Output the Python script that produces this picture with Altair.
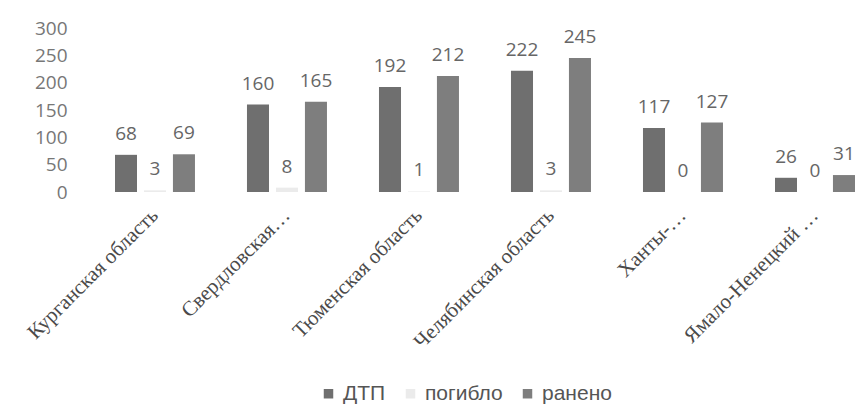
import altair as alt
import pandas as pd

regions = ["Курганская область", "Свердловская…", "Тюменская область",
           "Челябинская область", "Ханты-…", "Ямало-Ненецкий …"]
series_names = ["ДТП", "погибло", "ранено"]
dtp = [68, 160, 192, 222, 117, 26]
killed = [3, 8, 1, 3, 0, 0]
injured = [69, 165, 212, 245, 127, 31]
y_ticks = [0, 50, 100, 150, 200, 250, 300]

rows = []
for i, r in enumerate(regions):
    for s, vals in zip(series_names, [dtp, killed, injured]):
        rows.append({"region": r, "series": s, "value": vals[i]})
df = pd.DataFrame(rows)

x_enc = alt.X("region:N", sort=regions,
              scale=alt.Scale(paddingInner=0.394, paddingOuter=0.178, align=0.957),
              axis=alt.Axis(title=None, labelAngle=315, labelAlign="right",
                            labelBaseline="middle", labelPadding=20,
                            labelFont="Liberation Serif", labelFontSize=21,
                            labelColor="#4a4a4a", labelLimit=400,
                            domain=False, ticks=False, tickSize=0, grid=False))
xoff_enc = alt.XOffset("series:N", sort=series_names,
                       scale=alt.Scale(paddingInner=0.24, paddingOuter=0))
y_enc = alt.Y("value:Q", scale=alt.Scale(domain=[0, 300], nice=False),
              axis=alt.Axis(title=None, values=y_ticks, grid=False, domain=False,
                            ticks=False, tickSize=0, labelPadding=3,
                            labelFont="Open Sans", labelFontSize=19,
                            labelColor="#777777"))

bars = alt.Chart(df).mark_bar().encode(
    x=x_enc, xOffset=xoff_enc, y=y_enc,
    color=alt.Color("series:N", sort=series_names,
                    scale=alt.Scale(domain=series_names,
                                    range=["#6f6f6f", "#ebebeb", "#7e7e7e"]),
                    legend=alt.Legend(title=None, orient="none", legendX=248,
                                      legendY=355, direction="horizontal",
                                      symbolType="square", symbolSize=90,
                                      symbolStrokeWidth=0,
                                      labelFont="Liberation Sans",
                                      labelFontSize=21, labelColor="#555555",
                                      labelOffset=4, columnPadding=14)),
)

labels = alt.Chart(df).mark_text(baseline="alphabetic", dy=-15,
                                 font="Open Sans", fontSize=19,
                                 color="#666666").encode(
    x=x_enc, xOffset=xoff_enc, y=y_enc,
    text=alt.Text("value:Q"),
)

chart = alt.layer(bars, labels).properties(
    width=787, height=164,
    padding={"left": 62, "top": 20, "right": 0, "bottom": 219},
    autosize=alt.AutoSizeParams(type="none"),
).configure_view(stroke=None)

chart.save("out.html", embed_options={"renderer": "svg", "actions": False})
